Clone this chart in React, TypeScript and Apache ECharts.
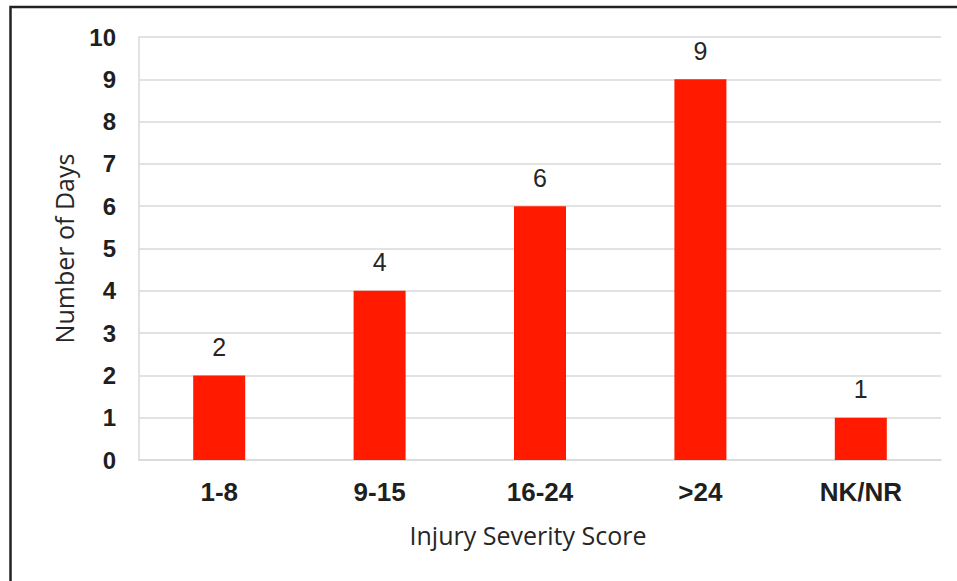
import React, { useEffect, useRef } from "react";
import * as echarts from "echarts";

const categories = ["1-8", "9-15", "16-24", ">24", "NK/NR"];
const days = [2, 4, 6, 9, 1];
const yTicks = { min: 0, max: 10, interval: 1 };
const xTitle = "Injury Severity Score";
const yTitle = "Number of Days";

export default function App() {
  const ref = useRef<HTMLDivElement>(null);
  useEffect(() => {
    if (!ref.current) return;
    const chart = echarts.init(ref.current, null, { renderer: "svg" });
    chart.setOption({
      animation: false,
      backgroundColor: "#ffffff",
      grid: { left: 139, right: 16, top: 37, bottom: 121, containLabel: false },
      graphic: [
        {
          type: "rect",
          shape: { x: 10.5, y: 7, width: 1000, height: 700 },
          style: { fill: "none", stroke: "#222222", lineWidth: 2.5 },
          silent: true,
        },
      ],
      xAxis: {
        type: "category",
        data: categories,
        name: xTitle,
        nameLocation: "middle",
        nameGap: 62,
        nameTextStyle: {
          fontFamily: "Open Sans",
          fontSize: 25,
          color: "#262626",
          padding: [0, 24, 0, 0],
        },
        axisLine: { show: true, lineStyle: { color: "#d9d9d9", width: 1.5 } },
        axisTick: { show: false },
        axisLabel: {
          margin: 19,
          fontFamily: "Liberation Sans",
          fontWeight: "bold",
          fontSize: 26,
          color: "#1f1f1f",
        },
      },
      yAxis: {
        type: "value",
        min: yTicks.min,
        max: yTicks.max,
        interval: yTicks.interval,
        name: yTitle,
        nameLocation: "middle",
        nameGap: 63,
        nameTextStyle: { fontFamily: "Open Sans", fontSize: 25, color: "#262626" },
        axisLine: { show: true, lineStyle: { color: "#d9d9d9", width: 1.5 } },
        axisTick: { show: false },
        splitLine: { show: true, lineStyle: { color: "#d9d9d9", width: 1.5 } },
        axisLabel: {
          margin: 23,
          fontFamily: "Liberation Sans",
          fontWeight: "bold",
          fontSize: 24,
          color: "#1f1f1f",
        },
      },
      series: [
        {
          type: "bar",
          data: days,
          barWidth: 52,
          itemStyle: { color: "#ff1a00" },
          label: {
            show: true,
            position: "top",
            distance: 16,
            fontFamily: "Liberation Sans",
            fontSize: 25,
            color: "#262626",
          },
        },
      ],
    });
    return () => chart.dispose();
  }, []);
  return (
    <div
      ref={ref}
      style={{ position: "fixed", left: 0, top: 0, width: 957, height: 581 }}
    />
  );
}
